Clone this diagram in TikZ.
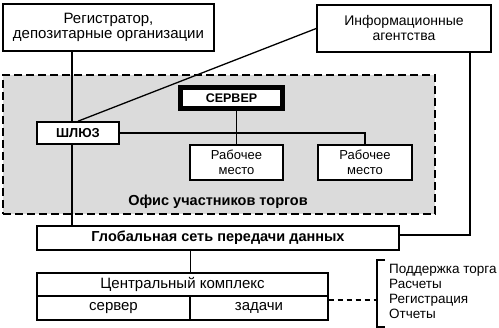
\documentclass[tikz,border=0pt]{standalone}
\usepackage{fontspec}
\setmainfont{Liberation Sans}
\usetikzlibrary{calc}
\begin{document}
\begin{tikzpicture}[x=1pt,y=-1pt,
  box/.style={draw,line width=1.6pt,fill=white,inner sep=0pt,align=center,font=\fontsize{15}{15.5}\selectfont},
  wbox/.style={draw,line width=1.4pt,fill=white,inner sep=0pt,align=center,font=\fontsize{13}{15}\selectfont},
  conn/.style={line width=1.3pt},
  lbl/.style={inner sep=0pt,anchor=base west,align=left,font=\fontsize{13.5}{15.3}\selectfont}]
\useasboundingbox (0,0) rectangle (499,328);
% office
\node[draw,dashed,dash pattern=on 8pt off 4pt,line width=1.3pt,fill=black!14,minimum width=432pt,minimum height=139pt,inner sep=0pt] (office) at (219,144.5) {};
\node[inner sep=0pt,font=\bfseries\fontsize{14.5}{15}\selectfont] (officelbl) at (218,202) {Офис участников торгов};
% top boxes
\node[box,minimum width=211pt,minimum height=47pt] (reg) at (108.5,27.5) {Регистратор,\\депозитарные организации};
\node[box,minimum width=174pt,minimum height=47pt,font=\fontsize{14}{15}\selectfont] (info) at (404,28.5) {Информационные\\агентства};
% server & gate
\node[draw,line width=5pt,fill=white,inner sep=0pt,minimum width=102pt,minimum height=21pt,font=\bfseries\fontsize{12.5}{14}\selectfont] (server) at (231.5,98) {СЕРВЕР};
\node[draw,line width=1.6pt,fill=white,inner sep=0pt,minimum width=82pt,minimum height=22pt,font=\bfseries\fontsize{13}{14}\selectfont] (gate) at (78,133) {ШЛЮЗ};
\node[wbox,minimum width=93pt,minimum height=35pt] (wp1) at (236.5,162.5) {Рабочее\\место};
\node[wbox,minimum width=94pt,minimum height=35pt] (wp2) at (365,162.5) {Рабочее\\место};
% global
\node[draw,line width=2.6pt,fill=white,inner sep=0pt,minimum width=362pt,minimum height=24pt,font=\bfseries\fontsize{14.5}{15}\selectfont] (global) at (218,238) {Глобальная сеть передачи данных};
% central complex
\node[box,line width=1.4pt,minimum width=291pt,minimum height=23pt] (ctop) at (182.5,284.5) {Центральный комплекс};
\node[box,line width=1.4pt,minimum width=153pt,minimum height=24pt] (cleft) at (113.5,308) {сервер};
\node[box,line width=1.4pt,minimum width=138pt,minimum height=24pt] (cright) at (259,308) {задачи};
% list
\node[lbl] (list) at (389,319) {Поддержка торга\\Расчеты\\Регистрация\\Отчеты};
\coordinate (btop) at (377,260);
\coordinate (bbot) at (377,327);
\draw[conn,line width=1.2pt] ($(btop)+(8,0)$) -- (btop) -- (bbot) -- ($(bbot)+(8,0)$);
% connectors
\coordinate (vx) at (72,0);
\coordinate (ix) at (470,0);
\draw[conn] (vx |- reg.south) -- (vx |- gate.north);
\draw[conn] (vx |- gate.south) -- (vx |- global.north);
\draw[conn] (gate.north) -- (info.west);
\draw[conn] (gate.east) -| (wp2.north);
\draw[conn] (wp1.north |- server.south) -- (wp1.north);
\draw[conn] (ix |- info.south) |- ($(global.east)+(0,-3)$);
\draw[conn] (cleft.north east |- global.south) -- (cleft.north east |- ctop.north);
\draw[conn,dashed,dash pattern=on 5pt off 4pt] (cright.east |- 0,300) -- (btop |- 0,300);
\end{tikzpicture}
\end{document}
